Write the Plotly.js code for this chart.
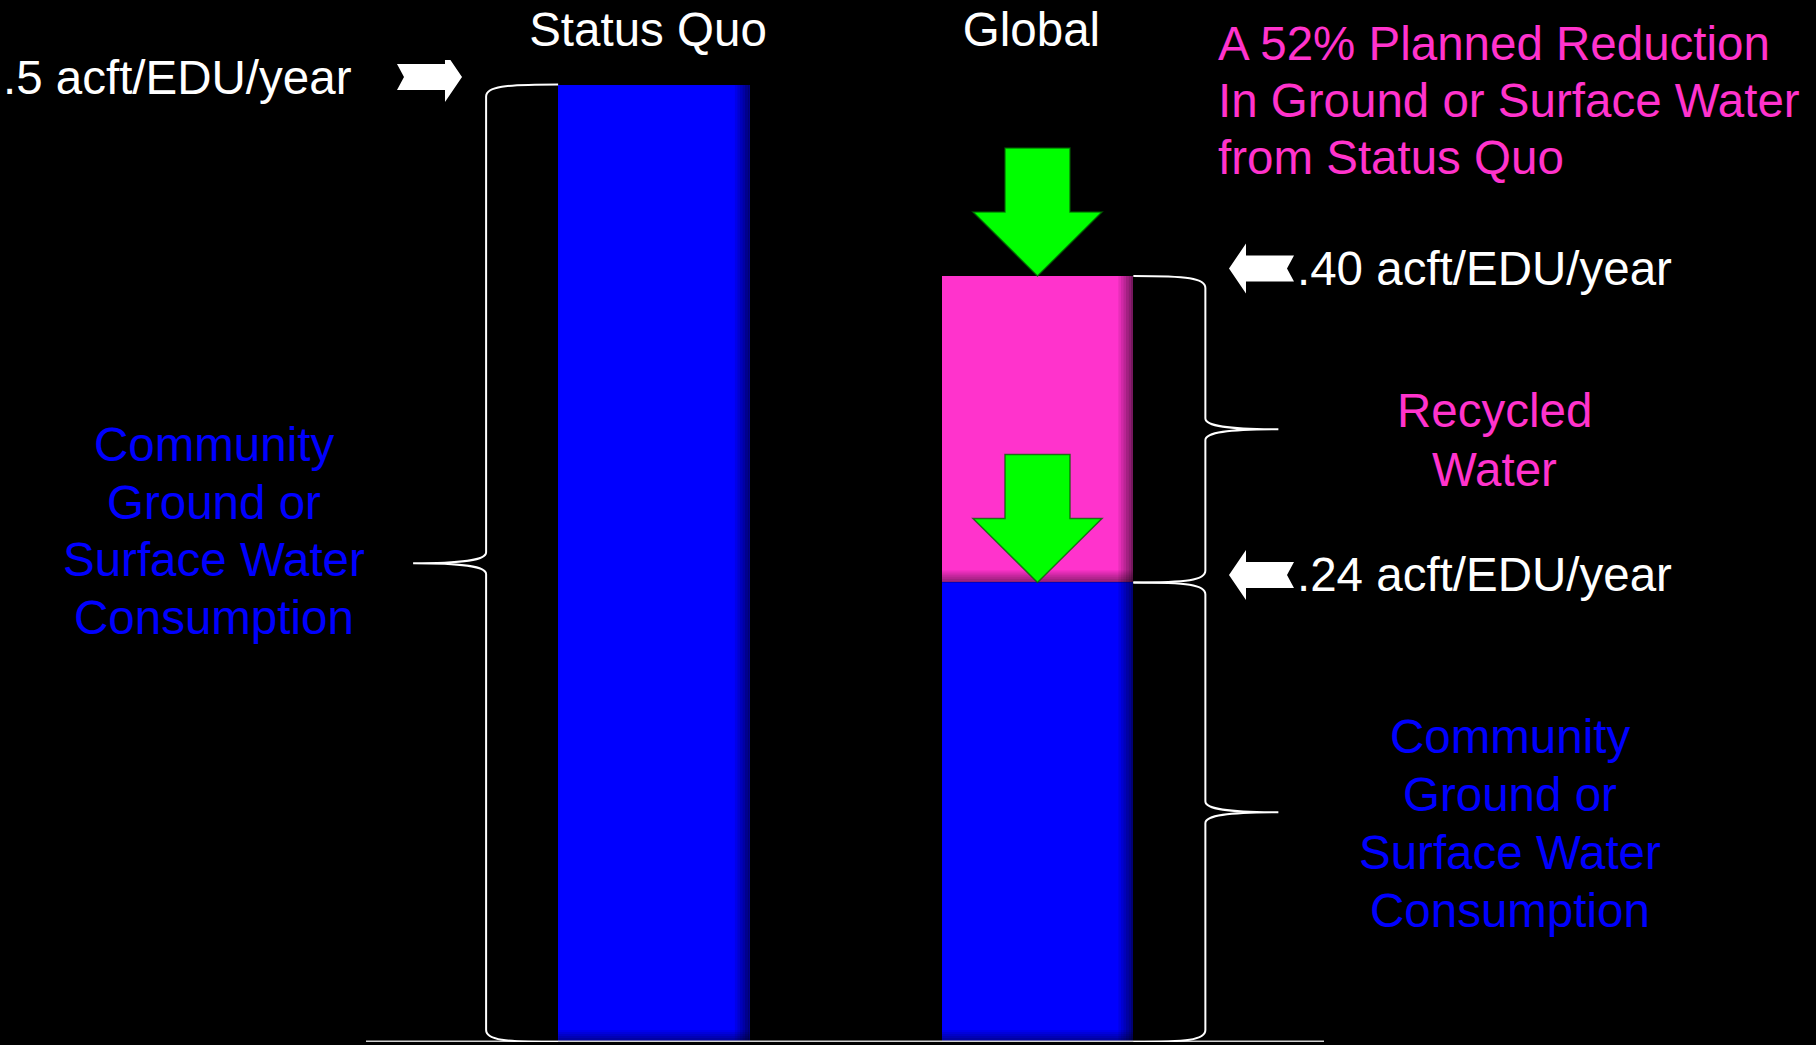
<!DOCTYPE html>
<html>
<head>
<meta charset="utf-8">
<script src="https://cdn.plot.ly/plotly-3.0.1.min.js"></script>
<style>
  html, body { margin: 0; padding: 0; background: #000; }
  #chart { width: 1816px; height: 1045px; }
</style>
</head>
<body>
<div id="chart"></div>
<script>
// Water use per EDU (acre-feet per year)
const categories = ['Status Quo', 'Global'];
const groundSurfaceUse = [0.5, 0.24];
const recycledUse = [0, 0.16];

// Level markers and their labels
const levelValues = [0.5, 0.40, 0.24];
const levelLabels = ['.5 acft/EDU/year', '.40 acft/EDU/year', '.24 acft/EDU/year'];

// Text blocks
const groundLabelLines = ['Community', 'Ground or', 'Surface Water', 'Consumption'];
const recycledLabelLines = ['Recycled', 'Water'];
const reductionNoteLines = ['A 52% Planned Reduction', 'In Ground or Surface Water', 'from Status Quo'];

// ---- layout geometry ----
const W = 1816, H = 1045, MT = 60, MB = 3;
const plotH = H - MT - MB;
const Y_MAX = 0.5128;
const X_RANGE = [-1.7053, 3.0300];
const BAR_W = 0.5;
const pxPerUnit = plotH / Y_MAX;
const pxPerCat = W / (X_RANGE[1] - X_RANGE[0]);

const FONT = 'Liberation Sans, Arial, Helvetica, sans-serif';
const FS = 47.5;
const BLUE = '#0000ff', PINK = '#ff33cc', GREEN = '#00ff00', WHITE = '#ffffff';

const catPx = i => (i - X_RANGE[0]) * pxPerCat;       // pixel centre of a category
const paperX = px => px / W;
const paperY = py => (H - MB - py) / plotH;
const dv = px => px / pxPerUnit;                        // vertical pixels -> value units
const dc = px => px / pxPerCat;                         // horizontal pixels -> category units

// ---- bars ----
const traces = [
  {
    type: 'bar', x: categories, y: groundSurfaceUse, width: BAR_W,
    marker: { color: BLUE, line: { width: 0 } },
    hoverinfo: 'skip', showlegend: false
  },
  {
    type: 'bar', x: categories, y: recycledUse, width: BAR_W,
    marker: { color: PINK, line: { width: 0 } },
    hoverinfo: 'skip', showlegend: false
  }
];

const shapes = [];

// soft darkening along the right edge and bottom of each bar segment
function shadeSegment(ci, v0, v1) {
  const xr = ci + BAR_W / 2;
  const n = 6, wPx = 2.5;
  for (let k = 0; k < n; k++) {
    const a = 0.09 * (k + 1);
    shapes.push({
      type: 'rect', xref: 'x', yref: 'y', layer: 'above',
      x0: xr - dc(wPx * (n - k)), x1: xr - dc(wPx * (n - k - 1)),
      y0: v0, y1: v1,
      fillcolor: `rgba(0,0,0,${a.toFixed(2)})`, line: { width: 0 }
    });
    shapes.push({
      type: 'rect', xref: 'x', yref: 'y', layer: 'above',
      x0: ci - BAR_W / 2, x1: xr,
      y0: v0 + dv(2 * (n - k - 1)), y1: v0 + dv(2 * (n - k)),
      fillcolor: `rgba(0,0,0,${(a * 0.8).toFixed(2)})`, line: { width: 0 }
    });
  }
}
categories.forEach((c, i) => {
  shadeSegment(i, 0, groundSurfaceUse[i]);
  if (recycledUse[i] > 0) shadeSegment(i, groundSurfaceUse[i], groundSurfaceUse[i] + recycledUse[i]);
});

// baseline
shapes.push({
  type: 'line', xref: 'paper', yref: 'y',
  x0: paperX(366), x1: paperX(1324), y0: 0, y1: 0,
  line: { color: '#d0d0d0', width: 3 }
});

// curly brace between two values: bar edge -> spine -> tip
function bracePath(xe, xs, xt, vTop, vBot) {
  const vMid = (vTop + vBot) / 2;
  const P = (x, v, off) => `${paperX(x).toFixed(5)},${(v - dv(off)).toFixed(5)}`;
  const r = 12, c = 11;
  const xa = xs + (xe - xs) * 0.25;
  const xb = xs + (xt - xs) * 0.3;
  return `M${P(xe, vTop, 0)} C${P(xa, vTop, 0)} ${P(xs, vTop, 2)} ${P(xs, vTop, r)}` +
    ` L${P(xs, vMid, -c)} C${P(xs, vMid, -3)} ${P(xb, vMid, 0)} ${P(xt, vMid, 0)}` +
    ` C${P(xb, vMid, 0)} ${P(xs, vMid, 3)} ${P(xs, vMid, c)}` +
    ` L${P(xs, vBot, -r)} C${P(xs, vBot, -2)} ${P(xa, vBot, 0)} ${P(xe, vBot, 0)}`;
}
function addBrace(xe, dir, vTop, vBot) {
  shapes.push({
    type: 'path', xref: 'paper', yref: 'y', layer: 'above',
    path: bracePath(xe, xe + dir * 72, xe + dir * 145, vTop, vBot),
    line: { color: WHITE, width: 2 }
  });
}
const leftEdge0 = catPx(0) - BAR_W / 2 * pxPerCat;
const rightEdge1 = catPx(1) + BAR_W / 2 * pxPerCat;
addBrace(leftEdge0, -1, groundSurfaceUse[0], 0);
addBrace(rightEdge1, 1, groundSurfaceUse[1] + recycledUse[1], groundSurfaceUse[1]);
addBrace(rightEdge1, 1, groundSurfaceUse[1], 0);

// notched white block arrow, tip at tipX, pointing dir (+1 right, -1 left)
const ARROW_LIFT = 7.5;
function blockArrow(tipX, dir, v) {
  const L = 65, HL = 17, BH = 13, HH = 25, N = 7;
  const tail = tipX - dir * L, base = tipX - dir * HL;
  const P = (x, off) => `${paperX(x).toFixed(5)},${(v - dv(off - ARROW_LIFT)).toFixed(5)}`;
  return {
    type: 'path', xref: 'paper', yref: 'y', layer: 'above',
    path: `M${P(tail, -BH)} L${P(base, -BH)} L${P(base, -HH)} L${P(tipX, 0)} L${P(base, HH)}` +
      ` L${P(base, BH)} L${P(tail, BH)} L${P(tail + dir * N, 0)} Z`,
    fillcolor: WHITE, line: { width: 0 }
  };
}
shapes.push(blockArrow(462, 1, levelValues[0]));
shapes.push(blockArrow(1229, -1, levelValues[1]));
shapes.push(blockArrow(1229, -1, levelValues[2]));

// green down arrows pointing at the Global levels
function greenArrow(ci, vTip) {
  const c = ci;
  const P = (dxPx, dyPx) => `${(c + dc(dxPx)).toFixed(5)},${(vTip + dv(dyPx)).toFixed(5)}`;
  return {
    type: 'path', xref: 'x', yref: 'y', layer: 'above',
    path: `M${P(0, 0)} L${P(-64.5, 64)} L${P(-32.5, 64)} L${P(-32.5, 128)} L${P(32.5, 128)}` +
      ` L${P(32.5, 64)} L${P(64.5, 64)} Z`,
    fillcolor: GREEN, line: { color: 'rgba(0,95,0,0.75)', width: 1.5 }
  };
}
shapes.push(greenArrow(1, levelValues[1]));
shapes.push(greenArrow(1, levelValues[2]));

// ---- annotations ----
const annotations = [];
const txt = (color) => ({ family: FONT, size: FS, color: color });

annotations.push({
  xref: 'paper', yref: 'y', x: paperX(354), y: levelValues[0], yshift: ARROW_LIFT,
  xanchor: 'right', yanchor: 'middle', text: levelLabels[0], showarrow: false, font: txt(WHITE)
});
[1, 2].forEach(k => annotations.push({
  xref: 'paper', yref: 'y', x: paperX(1295), y: levelValues[k], yshift: ARROW_LIFT,
  xanchor: 'left', yanchor: 'middle', text: levelLabels[k], showarrow: false, font: txt(WHITE)
}));

function textBlock(lines, xPx, firstPy, step, anchor, color) {
  lines.forEach((line, i) => annotations.push({
    xref: 'paper', yref: 'paper', x: paperX(xPx), y: paperY(firstPy + i * step),
    xanchor: anchor, yanchor: 'middle', text: line, showarrow: false, font: txt(color)
  }));
}
textBlock(groundLabelLines, 214, 444.5, 57.6, 'center', BLUE);
textBlock(groundLabelLines, 1510, 736, 58, 'center', BLUE);
textBlock(recycledLabelLines, 1494, 411, 58, 'center', PINK);
textBlock(reductionNoteLines, 1216, 43.3, 57.2, 'left', PINK);

const layout = {
  width: W, height: H,
  margin: { l: 0, r: 0, t: MT, b: MB, pad: 0 },
  paper_bgcolor: '#000', plot_bgcolor: '#000',
  barmode: 'stack', bargap: 0,
  showlegend: false, hovermode: false,
  xaxis: {
    type: 'category', side: 'top', range: X_RANGE,
    showgrid: false, zeroline: false, showline: false, ticks: '',
    ticklabelstandoff: 4, ticklabelshift: -6,
    tickfont: { family: FONT, size: FS, color: WHITE }, fixedrange: true
  },
  yaxis: {
    range: [0, Y_MAX], showgrid: false, zeroline: false, showline: false,
    showticklabels: false, ticks: '', fixedrange: true
  },
  shapes: shapes,
  annotations: annotations
};

Plotly.newPlot('chart', traces, layout, { staticPlot: true, displayModeBar: false });
</script>
</body>
</html>
